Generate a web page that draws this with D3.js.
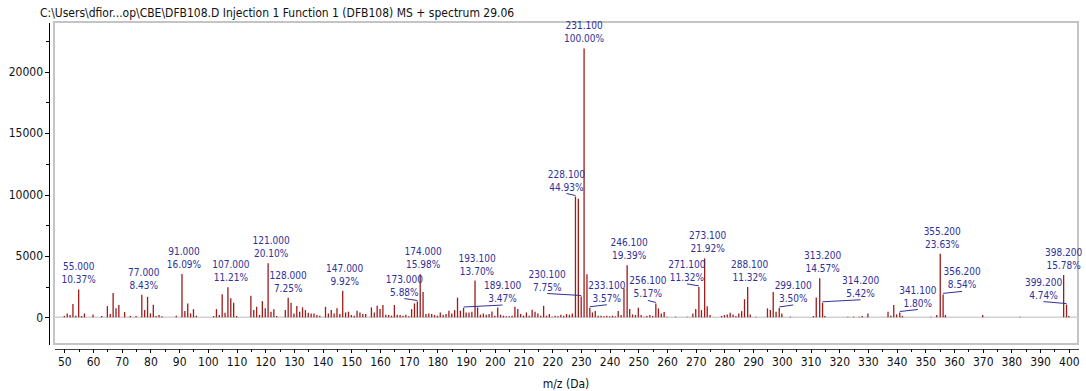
<!DOCTYPE html>
<html>
<head>
<meta charset="utf-8">
<script src="https://cdn.jsdelivr.net/npm/d3@7"></script>
<style>
  html, body { margin: 0; padding: 0; background: #fff; }
  svg { display: block; font-family: "DejaVu Sans Condensed", "Noto Sans", sans-serif; }
</style>
</head>
<body>
<svg id="chart" width="1086" height="391"></svg>
<script>
// ---- data ---------------------------------------------------------------
const titleText = "C:\\Users\\dfior...op\\CBE\\DFB108.D Injection 1 Function 1 (DFB108) MS + spectrum 29.06";
const xAxisTitle = "m/z (Da)";
const basePeakIntensity = 21900;

// annotated peaks: m/z and relative abundance (% of base peak)
const labelledMz  = [55.0, 77.0, 91.0, 107.0, 121.0, 128.0, 147.0, 173.0, 174.0, 189.1,
                     193.1, 228.1, 230.1, 231.1, 233.1, 246.1, 256.1, 271.1, 273.1, 288.1,
                     299.1, 313.2, 314.2, 341.1, 355.2, 356.2, 398.2, 399.2];
const labelledPct = [10.37, 8.43, 16.09, 11.21, 20.10, 7.25, 9.92, 5.88, 15.98, 3.47,
                     13.70, 44.93, 7.75, 100.00, 3.57, 19.39, 5.17, 11.32, 21.92, 11.32,
                     3.50, 14.57, 5.42, 1.80, 23.63, 8.54, 15.78, 4.74];

// remaining (unannotated) peaks: m/z and intensity (counts)
const peakMz = [50, 51, 52, 53, 54, 56, 57, 60, 63, 65, 66, 67, 68, 69, 71, 73, 75,
  78, 79, 80, 81, 82, 83, 84, 89, 92, 93, 94, 95, 96, 102, 103, 104, 105, 106,
  108, 109, 110, 115, 116, 117, 118, 119, 120, 122, 123, 124, 127, 129, 130, 131,
  132, 133, 134, 135, 136, 137, 138, 139, 141, 142, 143, 144, 145, 146, 148, 149,
  150, 151, 152, 153, 154, 155, 157, 158, 159, 160, 161, 162, 163, 164, 165, 166,
  167, 168, 169, 170, 171, 172, 175, 176, 177, 178, 179, 180, 181, 182, 183, 184,
  185, 186, 187, 188, 190, 191, 192, 194, 195, 196, 197, 198, 199, 200, 201, 202,
  203, 204, 205, 206, 207, 208, 209, 210, 211, 212, 213, 214, 215, 216, 217, 218,
  219, 220, 221, 222, 223, 224, 225, 226, 227, 229.1, 232.1, 234, 235, 236, 237,
  238, 239, 240, 241, 242, 243, 244, 245, 247, 248, 249, 250, 251, 252, 253, 254,
  255, 257, 258, 259, 260, 263, 267, 269, 270, 272, 274, 275, 279, 280, 281, 282,
  283, 284, 285, 286, 287, 289, 291, 295, 296, 297, 298, 300, 303, 311, 312, 315,
  323, 325, 327, 328, 330, 337, 338, 339, 340, 342, 352, 354, 357, 370, 383, 400];
const peakIntensity = [110, 320, 190, 1080, 135, 110, 320, 240, 110, 915, 270, 1990, 750, 1000, 430, 110, 110,
  590, 1670, 320, 1020, 110, 190, 80, 135, 510, 1130, 320, 670, 135, 110, 670, 190, 1880, 380,
  1560, 1180, 110, 1750, 590, 860, 190, 1320, 750, 460, 650, 110, 590, 1180, 320, 915,
  460, 810, 590, 380, 320, 320, 190, 135, 860, 320, 590, 320, 750, 270, 400, 460,
  190, 135, 540, 400, 270, 270, 810, 400, 940, 670, 1000, 215, 190, 135, 1000, 215,
  190, 135, 215, 80, 670, 1130, 2070, 270, 320, 270, 190, 135, 400, 215, 270, 540,
  320, 590, 1610, 540, 400, 400, 460, 810, 215, 320, 215, 270, 480, 135, 810, 215,
  135, 80, 80, 135, 860, 670, 270, 135, 400, 135, 620, 460, 320, 135, 940, 135,
  270, 55, 135, 80, 215, 135, 270, 215, 320, 9650, 3500, 400, 510, 135, 135,
  80, 135, 80, 135, 80, 510, 190, 2340, 670, 240, 190, 780, 190, 55, 110, 190,
  110, 726, 320, 430, 55, 55, 55, 320, 670, 590, 910, 190, 110, 190, 240, 380,
  240, 110, 320, 510, 1480, 240, 55, 730, 590, 2070, 460, 320, 55, 110, 1610, 110,
  55, 55, 55, 110, 320, 460, 130, 1000, 240, 110, 55, 190, 190, 190, 55, 110];

const yMajorTicks = [0, 5000, 10000, 15000, 20000];
const yMinorTicks = [2500, 7500, 12500, 17500, 22500];
const xMajorTicks = d3.range(50, 401, 10);
const xMinorTicks = d3.range(55, 400, 10);

// ---- layout -------------------------------------------------------------
// horizontal shift (px) of annotations moved aside of their peak; drawn with a leader line
const labelDx = [0, 2, 2, 3, 3, 0, 2, -13, 3, 39,
                 2, -9, -34, 0, 17, 2, -8, -12, 3, 2,
                 14, 3, 38, 18, 2, 19, 0, -23];

const W = 1086, H = 391;
const plot = { left: 54, right: 1078, top: 22, bottom: 344 };
const svg = d3.select("#chart");

const x = d3.scaleLinear().domain([46.4, 403.2]).range([plot.left, plot.right]);
const y = d3.scaleLinear().domain([-2170, 24050]).range([plot.bottom, plot.top]);

const labelColor = "#30309a";
const barColor = "#9e1b1b";

// title
svg.append("text")
  .attr("x", 40).attr("y", 17)
  .attr("font-size", 12).attr("fill", "#111")
  .text(titleText);

// plot frame
svg.append("rect")
  .attr("x", plot.left).attr("y", plot.top)
  .attr("width", plot.right - plot.left).attr("height", plot.bottom - plot.top)
  .attr("fill", "none").attr("stroke", "#c4c4c4").attr("stroke-width", 1.5)
  .attr("shape-rendering", "crispEdges");

// zero line
svg.append("line")
  .attr("x1", plot.left).attr("x2", plot.right)
  .attr("y1", y(0)).attr("y2", y(0))
  .attr("stroke", "#d2d2d2").attr("stroke-width", 1.5);

// y axis
const yAxisG = svg.append("g").attr("transform", "translate(49,0)");
yAxisG.call(d3.axisLeft(y).tickValues(yMajorTicks).tickSize(4).tickSizeOuter(0).tickPadding(2).tickFormat(d3.format("d")));
yAxisG.append("g").call(d3.axisLeft(y).tickValues(yMinorTicks).tickSize(3).tickSizeOuter(0).tickFormat(""))
  .select(".domain").remove();
yAxisG.selectAll("text").attr("font-size", 12).attr("fill", "#111").style("font-family", null);
yAxisG.attr("font-family", null);

// x axis
const xAxisG = svg.append("g").attr("transform", "translate(0,349)");
xAxisG.call(d3.axisBottom(x).tickValues(xMajorTicks).tickSize(4).tickSizeOuter(0).tickPadding(4).tickFormat(d3.format("d")));
xAxisG.append("g").call(d3.axisBottom(x).tickValues(xMinorTicks).tickSize(2.5).tickSizeOuter(0).tickFormat(""))
  .select(".domain").remove();
xAxisG.selectAll("text").attr("font-size", 12).attr("fill", "#111");
xAxisG.attr("font-family", null);
xAxisG.select(".domain").attr("stroke", "#444");

svg.selectAll(".domain, .tick line").attr("shape-rendering", "crispEdges");

// x axis title
svg.append("text")
  .attr("x", (plot.left + plot.right) / 2).attr("y", 388)
  .attr("text-anchor", "middle").attr("font-size", 12).attr("fill", "#111")
  .text(xAxisTitle);

// peaks
const labelled = labelledMz.map((mz, i) => ({
  mz, pct: labelledPct[i], value: labelledPct[i] / 100 * basePeakIntensity, dx: labelDx[i]
}));
const peaks = peakMz.map((mz, i) => ({ mz, value: peakIntensity[i] }))
  .concat(labelled.map(d => ({ mz: d.mz, value: d.value })));

svg.append("g").selectAll("line")
  .data(peaks)
  .join("line")
  .attr("x1", d => x(d.mz)).attr("x2", d => x(d.mz))
  .attr("y1", y(0)).attr("y2", d => y(d.value))
  .attr("stroke", barColor).attr("stroke-width", 1.3);

// annotations
const fmtMz = d3.format(".3f");
const fmtPct = d3.format(".2f");
const ann = svg.append("g").attr("fill", labelColor).attr("font-size", 10);

labelled.forEach(d => {
  const px = x(d.mz), top = y(d.value);
  const lx = px + d.dx;
  const t = ann.append("text").attr("text-anchor", "middle");
  t.append("tspan").attr("x", lx).attr("y", top - 19).text(fmtMz(d.mz));
  t.append("tspan").attr("x", lx).attr("y", top - 6).text(fmtPct(d.pct) + "%");
  if (Math.abs(d.dx) > 5) {
    ann.append("line")
      .attr("x1", lx).attr("y1", top - 3)
      .attr("x2", px).attr("y2", top - 1)
      .attr("stroke", labelColor).attr("stroke-width", 1);
  }
});
</script>
</body>
</html>
